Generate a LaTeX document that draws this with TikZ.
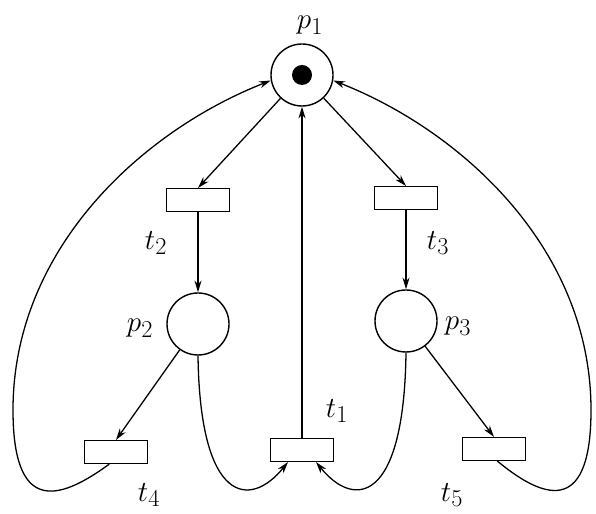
\documentclass[tikz,border=0pt]{standalone}
\usepackage{amsmath, amssymb}
\usepackage{tikz}
\usetikzlibrary{arrows.meta}

\tikzset{
  place/.style={circle, draw, line width=1.2pt, minimum size=1.86cm, inner sep=0pt},
  trans/.style={rectangle, draw, line width=1.2pt, minimum width=1.89cm, minimum height=0.68cm, inner sep=0pt},
  token/.style={circle, fill, minimum size=0.6cm, inner sep=0pt},
  netarc/.style={-{Stealth[length=10pt, width=6pt]}, line width=1.1pt},
  lbl/.style={font=\Huge}
}

\begin{document}
\begin{tikzpicture}[x=0.03cm, y=0.03cm]
\useasboundingbox (0,0) rectangle (596,514);
% places and transitions
\node[place] (p1) at (302,439) {};
\node[token] (tok) at (p1) {};
\node[trans] (t2) at (198,314) {};
\node[trans] (t3) at (406,316) {};
\node[place] (p2) at (198,190) {};
\node[place] (p3) at (406,193) {};
\node[trans] (t1) at (302,64) {};
\node[trans] (t4) at (116,62) {};
\node[trans] (t5) at (494,65) {};
% labels
\node[lbl] (lp1) at (310,489) {$p_1$};
\node[lbl] (lp2) at (140,186) {$p_2$};
\node[lbl] (lp3) at (458,188) {$p_3$};
\node[lbl] (lt1) at (337,103) {$t_1$};
\node[lbl] (lt2) at (156,271) {$t_2$};
\node[lbl] (lt3) at (438,271) {$t_3$};
\node[lbl] (lt4) at (149,19) {$t_4$};
\node[lbl] (lt5) at (452,19) {$t_5$};
% arcs
\draw[netarc] (p1) -- (t2.north);
\draw[netarc] (p1) -- (t3.north);
\draw[netarc] (t2) -- (p2);
\draw[netarc] (t3) -- (p3);
\draw[netarc] (p2) -- (t4.north);
\draw[netarc] (p3) -- (t5.north);
\draw[netarc] (t1) -- (p1);
\draw[netarc] (p2.south) .. controls (200,10) and (250,5) .. ([xshift=-0.42cm]t1.south);
\draw[netarc] (p3.south) .. controls (404,10) and (354,5) .. ([xshift=0.42cm]t1.south);
\draw[netarc] ([xshift=-0.2cm]t4.south) .. controls (55,10) and (13,4) .. (13,104)
  .. controls (13,265) and (142,383) .. (p1.190);
\draw[netarc] ([xshift=0.1cm]t5.south) .. controls (549,10) and (591,4) .. (591,104)
  .. controls (591,265) and (462,383) .. (p1.-10);
\end{tikzpicture}
\end{document}
